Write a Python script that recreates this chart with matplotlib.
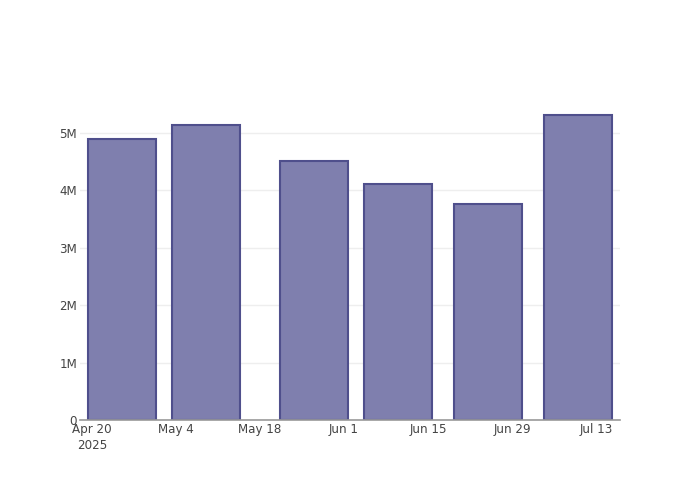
import matplotlib
matplotlib.use("Agg")
import matplotlib.pyplot as plt
import datetime as dt

dates = ["2025-04-25", "2025-05-09", "2025-05-27", "2025-06-10", "2025-06-25", "2025-07-10"]
values = [4.89e6, 5.14e6, 4.52e6, 4.11e6, 3.76e6, 5.31e6]
tick_dates = ["2025-04-20", "2025-05-04", "2025-05-18", "2025-06-01", "2025-06-15", "2025-06-29", "2025-07-13"]
tick_labels = ["Apr 20\n2025", "May 4", "May 18", "Jun 1", "Jun 15", "Jun 29", "Jul 13"]
ytick_vals = [0, 1e6, 2e6, 3e6, 4e6, 5e6]
ytick_labels = ["0", "1M", "2M", "3M", "4M", "5M"]

x = [dt.datetime.strptime(d, "%Y-%m-%d") for d in dates]
xt = [dt.datetime.strptime(d, "%Y-%m-%d") for d in tick_dates]

fig = plt.figure(figsize=(7, 5), dpi=100)
ax = fig.add_axes([80/700, 80/500, 540/700, 320/500])

ax.bar(x, values, width=11.2, color="#7f7fae", edgecolor="#4f4f8c", linewidth=1.5, zorder=3)

ax.set_xlim(x[0] - dt.timedelta(days=7), x[-1] + dt.timedelta(days=7))
ax.set_ylim(0, max(values) * 1.05)

ax.set_xticks(xt)
ax.set_xticklabels(tick_labels, fontsize=8.6, color="#444444", linespacing=1.3)
ax.set_yticks(ytick_vals)
ax.set_yticklabels(ytick_labels, fontsize=8.6, color="#444444")
ax.tick_params(axis="both", length=0)
ax.tick_params(axis="x", pad=2)
ax.tick_params(axis="y", pad=2)

ax.grid(axis="y", color="#eeeeee", linewidth=1, zorder=0)
ax.set_axisbelow(True)
for s in ["top", "right", "left"]:
    ax.spines[s].set_visible(False)
ax.spines["bottom"].set_color("#999999")
ax.spines["bottom"].set_linewidth(1.2)
ax.spines["bottom"].set_zorder(4)

fig.savefig("out.png", dpi=100)
